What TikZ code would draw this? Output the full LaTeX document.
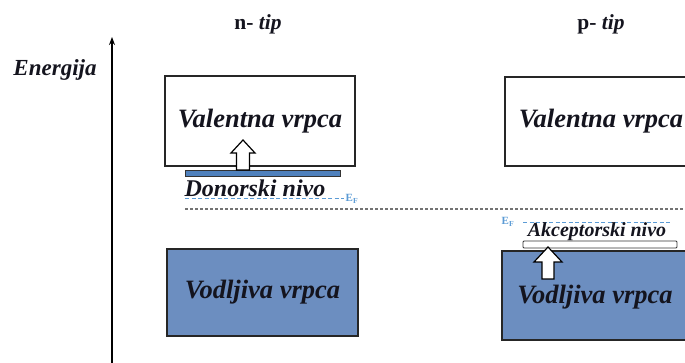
\documentclass[tikz,border=0pt]{standalone}
\usepackage{fontspec}
\setmainfont{Liberation Serif}
\usetikzlibrary{arrows.meta}
\definecolor{bandblue}{RGB}{108,142,192}
\definecolor{donorblue}{RGB}{79,129,189}
\definecolor{efblue}{RGB}{91,155,213}
\definecolor{txt}{RGB}{20,20,30}
\tikzset{
  band/.style={draw=black!85, line width=1.5pt, inner sep=0pt, text=txt,
    font=\fontsize{26.5}{29}\selectfont\bfseries\itshape},
  lvl/.style={draw=black!80, line width=0.9pt, inner sep=0pt},
  lbl/.style={inner sep=0pt, text=txt, font=\fontsize{23}{25}\selectfont\bfseries\itshape},
  ef/.style={inner sep=0pt, text=efblue, font=\fontsize{11}{12}\selectfont\bfseries},
  efline/.style={efblue, line width=1pt, dash pattern=on 4pt off 2.5pt},
  blockarrow/.style={draw=black, line width=1.2pt, fill=white, line join=miter},
  title/.style={inner sep=0pt, text=txt, font=\fontsize{21.5}{23}\selectfont\bfseries}
}
\begin{document}
\begin{tikzpicture}[x=1pt,y=-1pt]
\useasboundingbox (0,0) rectangle (685,363);
% axis
\coordinate (axb) at (112,363);
\coordinate (axt) at (112,37);
\draw[line width=1.6pt, -{Stealth[length=8pt,width=6pt]}] (axb) -- (axt);
\node[lbl] (energ) at (55,70) {Energija};
% titles
\node[title] (ntip) at (258,24) {n- \textit{tip}};
\node[title] (ptip) at (601,24) {p- \textit{tip}};
% left valence band
\node[band, fill=white, minimum width=190pt, minimum height=90pt] (valL) at (260,121) {Valentna vrpca};
% right valence band (cut by the page edge)
\node[band, fill=white, minimum width=187pt, minimum height=89pt] (valR) at (598.5,121.5) {};
\node[band, draw=none] (valRt) at (601,121) {Valentna vrpca};
% donor level
\node[lvl, fill=donorblue, minimum width=155pt, minimum height=6pt] (donor) at (262.5,173) {};
\node[lbl, font=\fontsize{24}{26}\selectfont\bfseries\itshape] (donort) at (255,188) {Donorski nivo};
% left arrow
\draw[blockarrow] (236.5,170) -- (236.5,153) -- (231,153) -- (243,140) -- (255,153) -- (249.5,153) -- (249.5,170) -- cycle;
% Fermi levels
\coordinate (efL1) at (185,199);
\coordinate (efL2) at (344,199);
\draw[efline] (efL1) -- (efL2);
\node[ef] (efLt) at (352,199) {E\textsubscript{F}};
\coordinate (mid1) at (185,209);
\coordinate (mid2) at (685,209);
\draw[black!55, line width=1.1pt, dash pattern=on 3pt off 2pt] (mid1) -- (mid2);
\node[ef] (efRt) at (508,222) {E\textsubscript{F}};
\coordinate (efR1) at (523,223);
\coordinate (efR2) at (672,223);
\draw[efline] (efR1) -- (efR2);
% acceptor level
\node[lbl, font=\fontsize{20}{22}\selectfont\bfseries\itshape] (accept) at (597,232) {Akceptorski nivo};
\node[lvl, fill=white, rounded corners=1pt, minimum width=154pt, minimum height=7pt] (accbar) at (600,244.5) {};
% conduction bands
\node[band, fill=bandblue, minimum width=191pt, minimum height=87pt] (conL) at (262.5,292.5) {Vodljiva vrpca};
\node[band, fill=bandblue, minimum width=188pt, minimum height=89pt] (conR) at (596,295.5) {};
\node[band, draw=none] (conRt) at (595,297) {Vodljiva vrpca};
% right arrow
\draw[blockarrow] (542,279) -- (542,262) -- (534,262) -- (548,247) -- (562,262) -- (554,262) -- (554,279) -- cycle;
\end{tikzpicture}
\end{document}
